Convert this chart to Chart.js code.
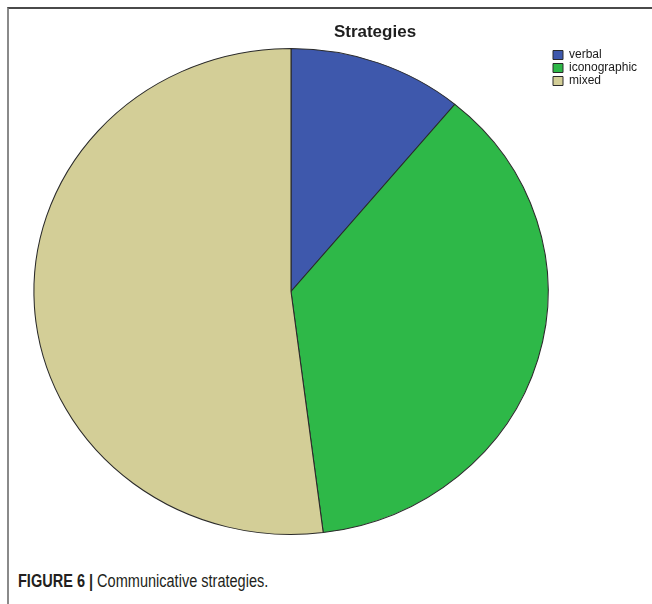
<!DOCTYPE html>
<html>
<head>
<meta charset="utf-8">
<script src="https://cdn.jsdelivr.net/npm/chart.js@4.4.1/dist/chart.umd.min.js"></script>
<style>
  html, body { margin: 0; padding: 0; background: #fff; overflow: hidden; }
  body { width: 652px; height: 604px; position: relative; font-family: "Liberation Sans", Arial, sans-serif; }
  .frame {
    position: absolute; left: 7px; top: 7px; width: 700px; height: 700px;
    border-top: 2px solid #4a4a4a; border-left: 2px solid #8a8a8a;
  }
  #pie { position: absolute; left: 0; top: 0; }
  .title {
    position: absolute; left: 275px; width: 200px; top: 22px; text-align: center;
    font: bold 17px "Liberation Sans", Arial, sans-serif; color: #1e1e1e;
  }
  .caption {
    position: absolute; left: 18px; top: 571px; color: #231f20; white-space: nowrap;
    font: 17.5px "Liberation Sans", Arial, sans-serif;
    transform: scaleX(0.83); transform-origin: 0 0;
  }
  .caption b { font-weight: bold; }
</style>
</head>
<body>
<div class="frame"></div>
<canvas id="pie" width="652" height="560"></canvas>
<div class="title">Strategies</div>
<div class="caption"><b>FIGURE 6 |</b> Communicative strategies.</div>
<script>
const labels = ['verbal', 'iconographic', 'mixed'];
const shares = [11, 37, 52];
const colors = ['#3e58ac', '#2eb848', '#d3ce97'];

// the pie is drawn a little wider than tall
const STRETCH_X = 1.058;

const stretchPie = {
  id: 'stretchPie',
  beforeDatasetsDraw(chart) {
    const arc = chart.getDatasetMeta(0).data[0];
    if (!arc) return;
    const ctx = chart.ctx;
    ctx.save();
    ctx.translate(arc.x, arc.y);
    ctx.scale(STRETCH_X, 1);
    ctx.translate(-arc.x, -arc.y);
  },
  afterDatasetsDraw(chart) {
    chart.ctx.restore();
  }
};

new Chart(document.getElementById('pie'), {
  type: 'pie',
  data: {
    labels,
    datasets: [{
      data: shares,
      backgroundColor: colors,
      borderColor: '#2a2a2a',
      borderWidth: 1,
      hoverOffset: 0
    }]
  },
  options: {
    responsive: false,
    animation: false,
    layout: {
      padding: { left: 30, right: 10, top: 48, bottom: 25 }
    },
    plugins: {
      legend: {
        position: 'right',
        align: 'start',
        maxWidth: 90,
        labels: {
          boxWidth: 10,
          boxHeight: 9,
          padding: 1,
          color: '#1a1a1a',
          font: { family: 'Liberation Sans, Arial, sans-serif', size: 12 }
        }
      },
      tooltip: { enabled: false }
    }
  },
  plugins: [stretchPie]
});
</script>
</body>
</html>
